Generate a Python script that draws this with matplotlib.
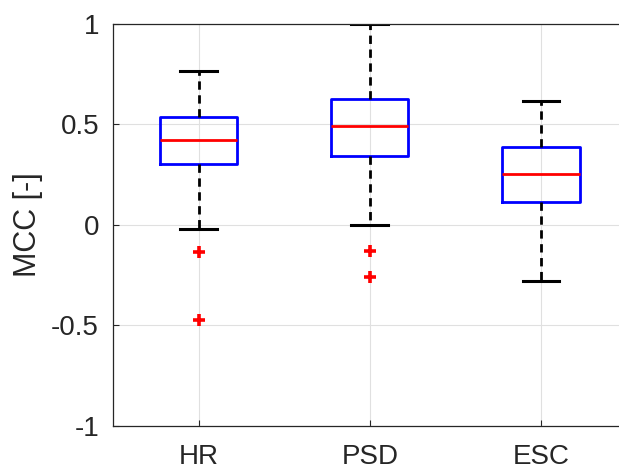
import matplotlib
matplotlib.use("Agg")
import matplotlib.pyplot as plt

categories = ["HR", "PSD", "ESC"]
whisker_low = [-0.02, 0.0, -0.282]
q1 = [0.303, 0.341, 0.111]
median = [0.421, 0.492, 0.253]
q3 = [0.537, 0.626, 0.386]
whisker_high = [0.765, 1.0, 0.615]
outliers = [[-0.135, -0.474], [-0.13, -0.262], []]
yticks = [-1, -0.5, 0, 0.5, 1]
ytick_labels = ["-1", "-0.5", "0", "0.5", "1"]

plt.rcParams['font.family'] = ['Liberation Sans', 'DejaVu Sans']
textc = '#262626'

fig = plt.figure(figsize=(6.19, 4.70), dpi=100)
ax = fig.add_axes([113/619, 44.3/470, 513.6/619, 402.2/470])

stats = []
for i, c in enumerate(categories):
    stats.append(dict(label=c, whislo=whisker_low[i], q1=q1[i], med=median[i],
                      q3=q3[i], whishi=whisker_high[i], fliers=outliers[i]))

ax.bxp(stats, positions=[1, 2, 3], widths=0.45, showfliers=True,
       boxprops=dict(color='#0000ff', linewidth=2.0),
       medianprops=dict(color='#ff0000', linewidth=2.0),
       whiskerprops=dict(color='black', linewidth=2.0, linestyle=(0, (3, 2))),
       capprops=dict(color='black', linewidth=2.2),
       capwidths=0.215,
       flierprops=dict(marker='+', markerfacecolor='#ff0000', markeredgecolor='#ff0000',
                       markersize=8, markeredgewidth=2.6, linestyle='none'))

ax.set_xlim(0.5, 3.5)
ax.set_ylim(-1, 1)
ax.set_yticks(yticks)
ax.set_yticklabels(ytick_labels)
ax.set_xticks([1, 2, 3])
ax.set_xticklabels(categories)
ax.grid(True, color='#e0e0e0', linewidth=0.8)
ax.set_axisbelow(True)
ax.tick_params(direction='in', length=4, width=0.8, colors=textc, labelsize=20)
ax.tick_params(axis='x', pad=13)
ax.tick_params(axis='y', pad=10)
for s in ax.spines.values():
    s.set_color(textc)
    s.set_linewidth(0.9)
ax.set_ylabel('MCC [-]', fontsize=22, color=textc, labelpad=6)

fig.savefig('out.png', dpi=100)
